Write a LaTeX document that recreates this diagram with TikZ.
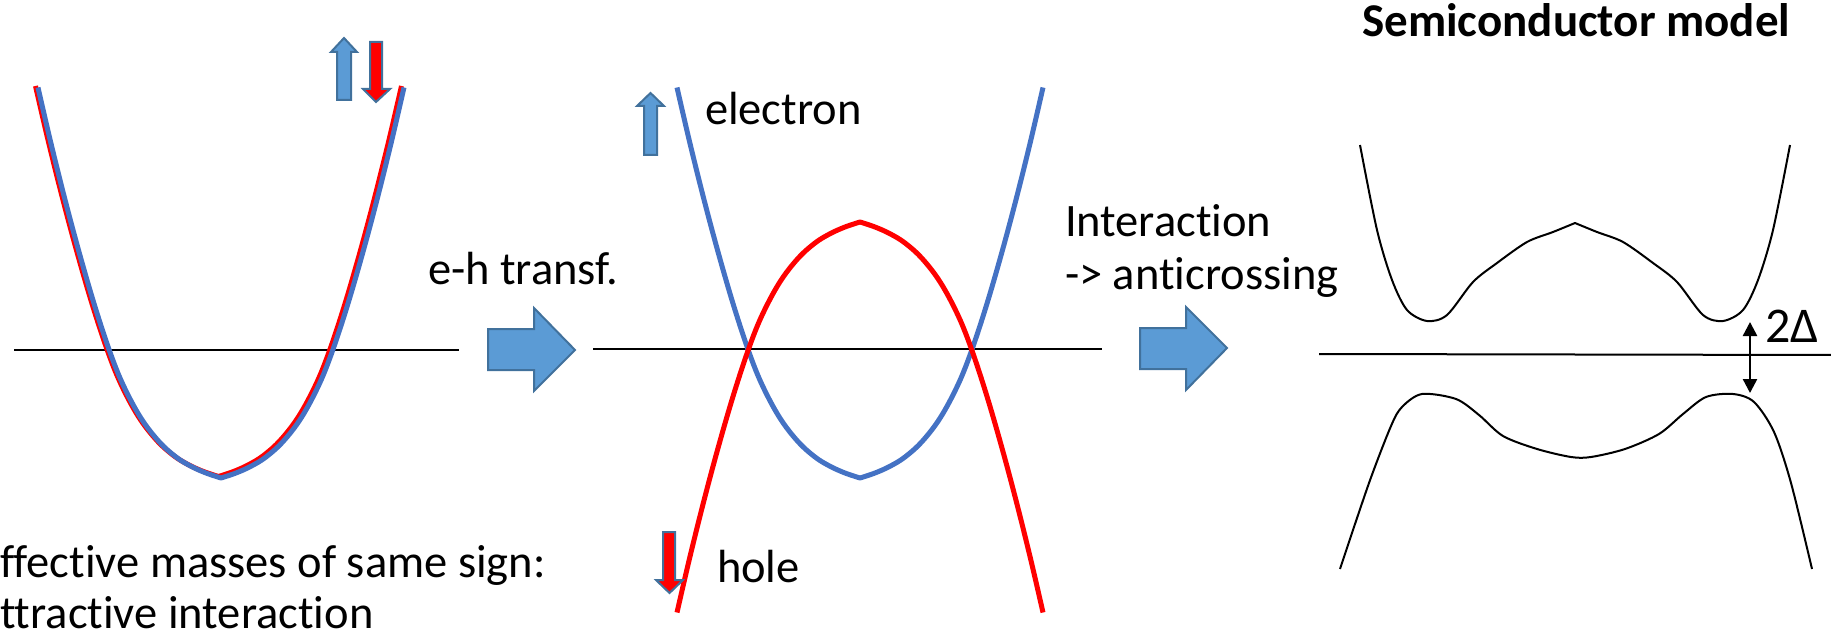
\documentclass[tikz,border=0pt]{standalone}
\usepackage{fontspec}
\setmainfont{Carlito}[Ligatures={TeX,NoCommon}]
\usetikzlibrary{arrows.meta}
\definecolor{bandblue}{HTML}{4472C4}
\definecolor{arrfill}{HTML}{5B9BD5}
\definecolor{arredge}{HTML}{41719C}
\definecolor{bandred}{HTML}{FF0000}
\tikzset{
  axisline/.style={black, line width=2pt},
  blueband/.style={bandblue, line width=5pt, line join=round},
  redband/.style={bandred, line width=5pt, line join=round},
  blackband/.style={black, line width=2pt, line join=round},
  blockarrow/.style={fill=arrfill, draw=arredge, line width=2pt, line join=miter},
  spinup/.style={fill=arrfill, draw=arredge, line width=2pt},
  spindown/.style={fill=bandred, draw=arredge, line width=2pt},
  lbl/.style={inner sep=0pt, outer sep=0pt, anchor=base west, font=\fontsize{46.5}{56}\selectfont},
  pics/band/.style={code={
    \draw[#1] plot[smooth, tension=0.6] coordinates {(-183,-390.5) (-170,-334.5) (-155,-274.5) (-140,-219) (-125,-168) (-110,-123) (-97,-91.2) (-80,-59.8) (-62,-36.4) (-45,-21) (-30,-11.75) (-15,-5) (0,0)}
      -- plot[smooth, tension=0.6] coordinates {(0,0) (15,-5) (30,-11.75) (45,-21) (62,-36.4) (80,-59.8) (97,-91.2) (110,-123) (125,-168) (140,-219) (155,-274.5) (170,-334.5) (183,-390.5)};
  }},
}
\begin{document}
\begin{tikzpicture}[x=1pt, y=-1pt]
\useasboundingbox (0,0) rectangle (1831,636);
% ---------- panel 1 ----------
\draw[axisline] (14,350) coordinate (a1l) -- (459,350) coordinate (a1r);
\path (218.5,476.5) pic {band=redband};
\path (221,478) pic {band=blueband};
\draw[spinup] (337,100) -- (337,52) -- (331,52) -- (344,38) -- (357,52) -- (351,52) -- (351,100) -- cycle;
\draw[spindown] (370,42) -- (382,42) -- (382,89) -- (390,89) -- (376,102) -- (363,89) -- (370,89) -- cycle;
% ---------- arrow 1 ----------
\node[lbl] (eh) at (428,285) {e-h transf.};
\draw[blockarrow] (488,329) -- (534,329) -- (534,308) -- (575,350) -- (534,391) -- (534,370) -- (488,370) -- cycle;
% ---------- panel 2 ----------
\draw[axisline] (593,349) coordinate (a2l) -- (1102,349) coordinate (a2r);
\path (860,478) pic {band=blueband};
\path (860,222) pic[yscale=-1] {band=redband};
\draw[spinup] (644,155) -- (644,106) -- (637,106) -- (650.5,93) -- (664,106) -- (657,106) -- (657,155) -- cycle;
\draw[spindown] (663,532) -- (675,532) -- (675,580) -- (683,580) -- (669.5,593) -- (656,580) -- (663,580) -- cycle;
\node[lbl] (el) at (705,125) {electron};
\node[lbl] (ho) at (717,582) {hole};
% ---------- arrow 2 ----------
\node[lbl] (int1) at (1065,237) {Interaction};
\node[lbl] (int2) at (1065,290) {-> anticrossing};
\draw[blockarrow] (1140,328) -- (1186,328) -- (1186,307) -- (1227,348) -- (1186,390) -- (1186,369) -- (1140,369) -- cycle;
% ---------- panel 3 ----------
\node[inner sep=0pt, anchor=base west, font=\bfseries\fontsize{47}{56}\selectfont] (title) at (1362,37) {Semiconductor model};
\draw[axisline] (1319,354) coordinate (a3l) -- (1831,355) coordinate (a3r);
\begin{scope}[shift={(1575,223)}]
  \draw[blackband] plot[smooth] coordinates {(-215,-78) (-198,7) (-183,57) (-168,87) (-148,98) (-128,92) (-102,59) (-78,40) (-48,19) (-22,9) (0,0)}
   -- plot[smooth] coordinates {(0,0) (22,9) (48,19) (78,40) (102,59) (128,92) (148,98) (168,87) (183,57) (198,7) (215,-78)};
\end{scope}
\draw[blackband] plot[smooth] coordinates {(1340,569) (1369,483) (1391,426) (1402,407) (1422,394) (1456,399) (1479,415) (1503,436) (1537,449) (1571,457) (1591,457) (1625,449) (1659,434) (1683,414) (1706,397) (1733,394) (1754,402) (1774,432) (1791,483) (1812,569)};
\coordinate (gt) at (1750,322);
\coordinate (gb) at (1750,393);
\draw[black, line width=2.5pt, {Triangle[length=14pt,width=14pt]}-{Triangle[length=14pt,width=14pt]}] (gt) -- (gb);
\node[lbl, font=\fontsize{50}{56}\selectfont] (gap) at (1765,342) {2Δ};
% ---------- bottom text ----------
\node[lbl] (t1) at (0,577) {ffective masses of same sign:};
\node[lbl] (t2) at (0,628) {ttractive interaction};
\end{tikzpicture}
\end{document}
